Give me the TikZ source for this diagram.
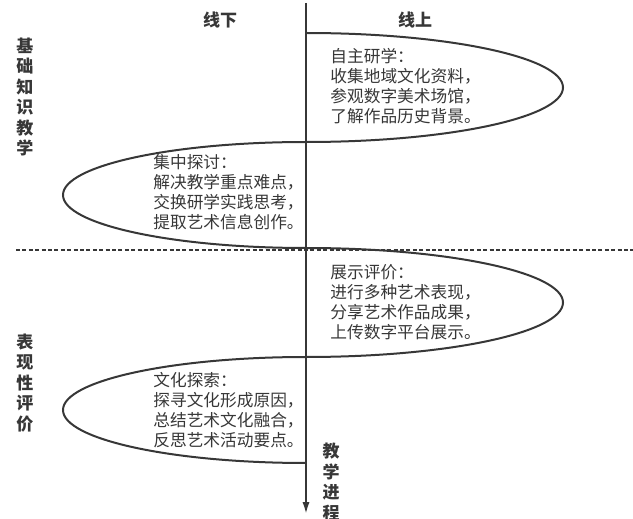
\documentclass[tikz,border=0pt]{standalone}
\usepackage{fontspec}
\setmainfont{Noto Sans CJK SC}
\usepackage{tikz}
\usetikzlibrary{arrows.meta}
\definecolor{inkgray}{RGB}{55,55,55}

\begin{document}
\begin{tikzpicture}[
    x=0.5pt, y=-0.5pt,
    lane/.style={font=\fontsize{8.5}{10}\selectfont\bfseries, text=inkgray},
    side/.style={lane, align=center, inner sep=0pt, font=\fontsize{8.5}{10.25}\selectfont\bfseries},
    note/.style={anchor=north west, inner sep=0pt, align=left, text=inkgray, font=\fontsize{8.35}{10}\selectfont},
    loopline/.style={draw=inkgray, line width=1pt},
    divider/.style={draw=inkgray, line width=0.75pt, dash pattern=on 2pt off 1.2pt}
  ]
  \useasboundingbox (0,0) rectangle (633,519);

  % time axis
  \coordinate (axtop) at (306,3);
  \coordinate (axtip) at (306,514);
  \draw[inkgray, line width=1pt, -{Latex[length=6pt,width=3.6pt]}] (axtop) -- (axtip);

  % spiral of the four stages
  \coordinate (c0) at (306,33);
  \draw[loopline] (c0)
    arc[start angle=90, end angle=-90, x radius=128.5pt, y radius=27.25pt]
    arc[start angle=90, end angle=270, x radius=121.5pt, y radius=26.5pt]
    arc[start angle=90, end angle=-90, x radius=128.5pt, y radius=27.25pt]
    arc[start angle=90, end angle=270, x radius=121.5pt, y radius=26.5pt] coordinate (c4);

  \coordinate (dl) at (16,250);
  \coordinate (dr) at (633,250);
  \draw[divider] (dl) -- (dr);

  \node[lane] (offline) at (220,20) {线下};
  \node[lane] (online) at (415,20) {线上};
  \node[side] (basic) at (25,97) {基\\础\\知\\识\\教\\学};
  \node[side] (perf) at (25,383) {表\\现\\性\\评\\价};
  \node[side] (prog) at (331,482) {教\\学\\进\\程};

  \node[note] (selfstudy) at (330,47.5) {自主研学：\\收集地域文化资料，\\参观数字美术场馆，\\了解作品历史背景。};
  \node[note] (discuss) at (153,154.5) {集中探讨：\\解决教学重点难点，\\交换研学实践思考，\\提取艺术信息创作。};
  \node[note] (showcase) at (330,264.5) {展示评价：\\进行多种艺术表现，\\分享艺术作品成果，\\上传数字平台展示。};
  \node[note] (explore) at (153,371.5) {文化探索：\\探寻文化形成原因，\\总结艺术文化融合，\\反思艺术活动要点。};
\end{tikzpicture}
\end{document}
